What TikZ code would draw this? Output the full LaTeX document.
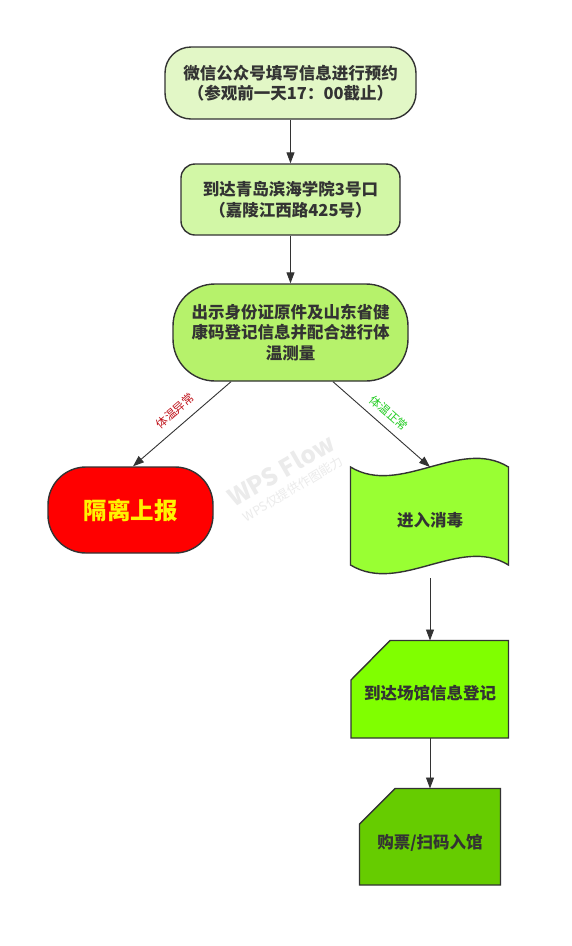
\documentclass[tikz,border=0pt]{standalone}
\usepackage{fontspec}
\setmainfont{Noto Sans CJK SC}
\usetikzlibrary{arrows.meta}
\definecolor{edge}{HTML}{333333}
\definecolor{fA}{HTML}{E2F7C6}
\definecolor{fB}{HTML}{D2F7A6}
\definecolor{fC}{HTML}{B6F26B}
\definecolor{fD}{HTML}{99FF33}
\definecolor{fE}{HTML}{80FF00}
\definecolor{fF}{HTML}{66CC00}
\definecolor{lblred}{HTML}{C0141C}
\definecolor{lblgreen}{HTML}{22CC22}
\definecolor{wm}{HTML}{EBEBEB}
\tikzset{
  box/.style={draw=edge, line width=1.4pt, text=edge, font=\fontsize{16.5}{20.5}\selectfont\bfseries, align=center, inner sep=0pt},
  plain/.style={text=edge, font=\fontsize{16.5}{20.5}\selectfont\bfseries, align=center, inner sep=0pt},
  shapeline/.style={draw=edge, line width=1.4pt},
  conn/.style={draw=edge, line width=0.9pt, -{Triangle[length=11pt,width=8pt]}},
  lbl/.style={font=\fontsize{11.5}{13}\selectfont, inner sep=1pt}
}
\begin{document}
\begin{tikzpicture}[x=1pt,y=-1pt]
\useasboundingbox (0,0) rectangle (571,946);
\fill[white] (0,0) rectangle (571,946);

% watermark
\node[rotate=30, text=wm, font=\fontsize{24}{26}\selectfont\bfseries] (wm1) at (281,470) {WPS Flow};
\node[rotate=31, text=wm, font=\fontsize{12.5}{14}\selectfont] (wm2) at (293,489) {WPS仅提供作图能力};

% node 1
\node[box, fill=fA, rounded corners=26pt, minimum width=251pt, minimum height=72pt] (n1) at (290.5,83)
  {微信公众号填写信息进行预约\\（参观前一天17：00截止）};
% node 2
\node[box, fill=fB, rounded corners=14pt, minimum width=219pt, minimum height=71pt] (n2) at (290.5,199.5)
  {到达青岛滨海学院3号口\\（嘉陵江西路425号）};
% node 3
\node[box, fill=fC, rounded corners=42pt, minimum width=235pt, minimum height=97pt] (n3) at (290.5,332.5)
  {出示身份证原件及山东省健\\康码登记信息并配合进行体\\温测量};
% node 4
\node[draw=edge, line width=1.4pt, fill=red, rounded corners=38pt, minimum width=165pt, minimum height=86pt,
  text=yellow, font=\fontsize{23.5}{26}\selectfont\bfseries, inner sep=0pt] (n4) at (130.5,510) {隔离上报};

% node 5 wave
\path[shapeline, fill=fD] (350.5,467) .. controls (400,497) and (460,437) .. (508.5,467)
  -- (508.5,565) .. controls (460,535) and (400,595) .. (350.5,565) -- cycle;
\node[plain] (n5) at (430,520) {进入消毒};
\coordinate (n5top) at (430,467);
\coordinate (n5bot) at (430,578);

% node 6
\path[shapeline, fill=fE] (390,640.5) -- (508.5,640.5) -- (508.5,738) -- (351,738) -- (351,680) -- cycle;
\node[plain] (n6) at (430,693) {到达场馆信息登记};
\coordinate (n6top) at (430,640.5);
\coordinate (n6bot) at (430,738);

% node 7
\path[shapeline, fill=fF] (395,788.5) -- (500.5,788.5) -- (500.5,885) -- (359.5,885) -- (359.5,824) -- cycle;
\node[plain] (n7) at (430,843) {购票/扫码入馆};
\coordinate (n7top) at (430,788.5);

% connectors
\draw[conn] (n1.south) -- (n2.north);
\draw[conn] (n2.south) -- (n3.south |- n3.north);
\coordinate (a1) at ([xshift=-59.5pt]n3.south);
\coordinate (a2) at ([xshift=42.5pt]n3.south);
\coordinate (b1) at ([xshift=2.5pt]n4.north);
\draw[conn] (a1) -- (b1);
\draw[conn] (a2) -- (n5top);
\draw[conn] (n5bot) -- (n6top);
\draw[conn] (n6bot) -- (n7top);

% labels
\node[lbl, text=lblred, rotate=40.6] (l1) at (175,411) {体温异常};
\node[lbl, text=lblgreen, rotate=-41.6] (l2) at (389,413) {体温正常};
\end{tikzpicture}
\end{document}
